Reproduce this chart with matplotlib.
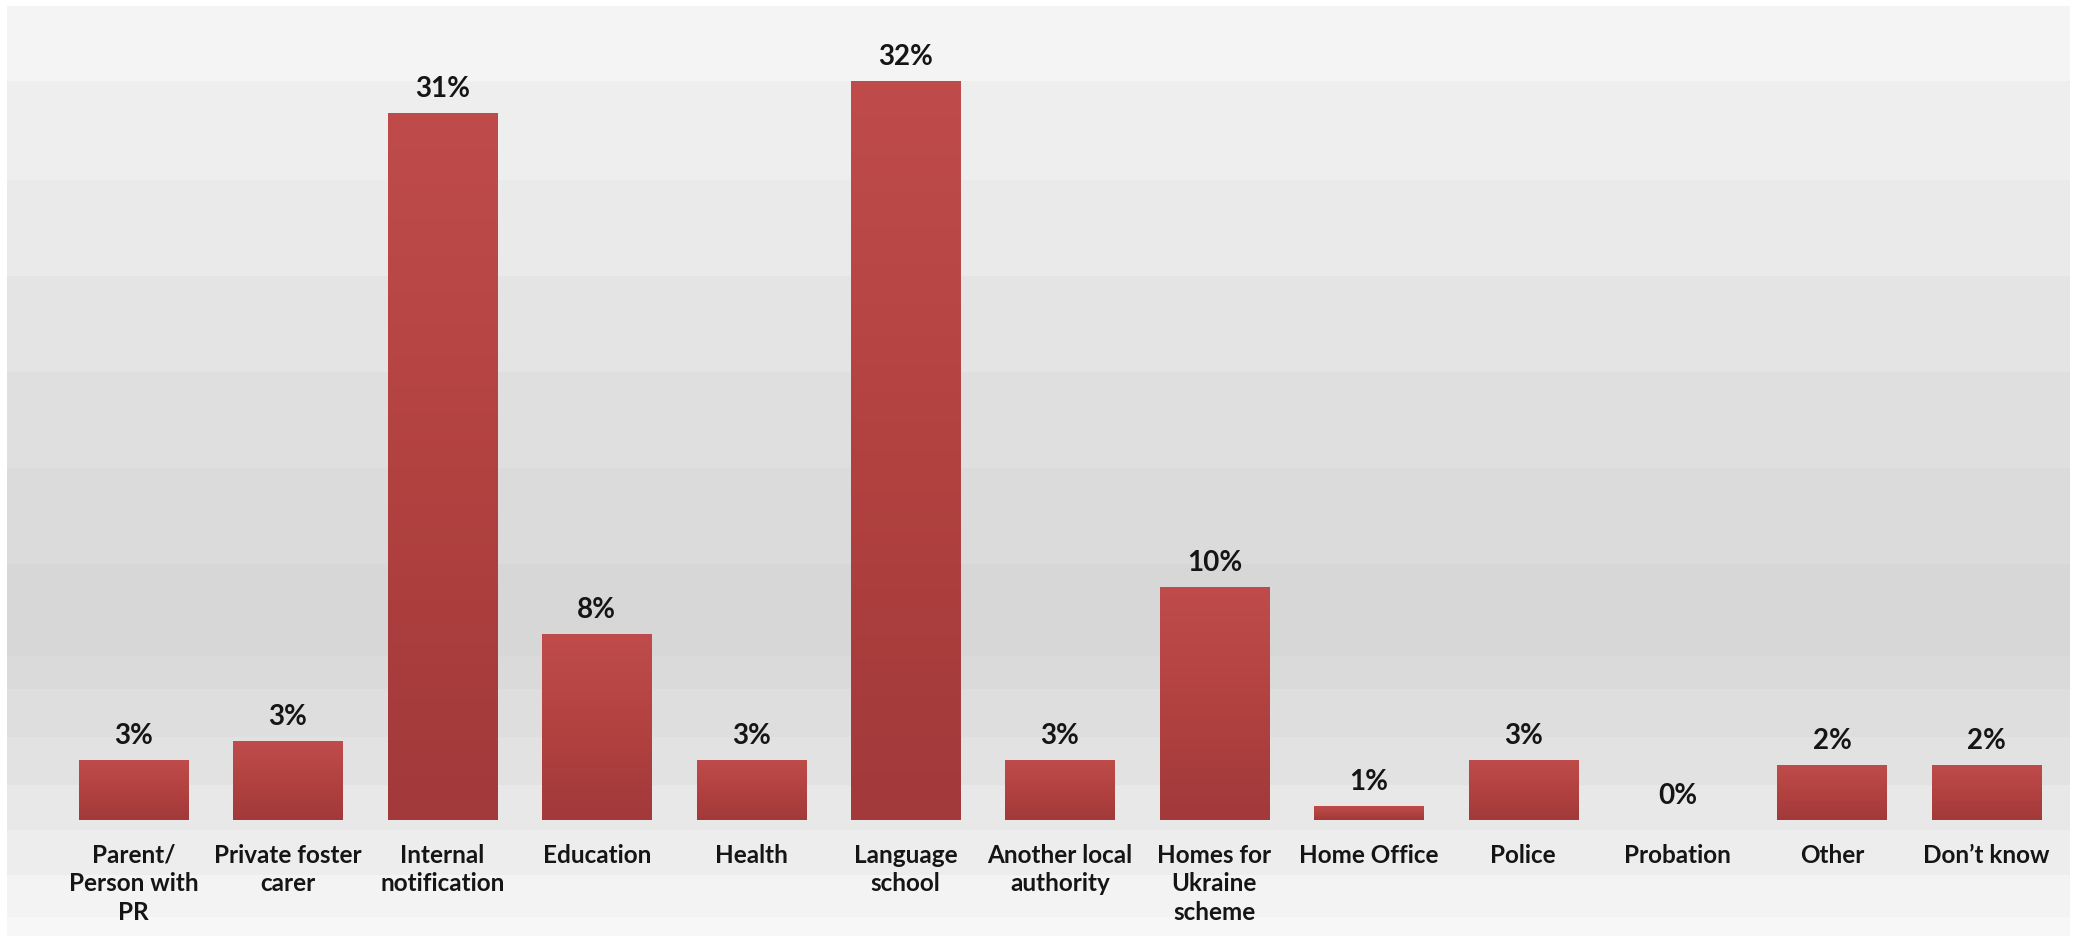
import numpy as np
import matplotlib
matplotlib.use("Agg")
import matplotlib.pyplot as plt
from matplotlib.colors import LinearSegmentedColormap

# Referral sources (share of referrals, %)
categories = [
    "Parent/\nPerson with\nPR",
    "Private foster\ncarer",
    "Internal\nnotification",
    "Education",
    "Health",
    "Language\nschool",
    "Another local\nauthority",
    "Homes for\nUkraine\nscheme",
    "Home Office",
    "Police",
    "Probation",
    "Other",
    "Don\u2019t know",
]
shares = [2.6, 3.4, 30.6, 8.05, 2.6, 32.0, 2.6, 10.1, 0.6, 2.6, 0.0, 2.4, 2.4]

W, H = 2074, 940
fig = plt.figure(figsize=(W / 100, H / 100), dpi=100)
fig.patch.set_facecolor("white")

# Banded grey backdrop panel
panel_top, panel_bottom = 6, 936
panel_left, panel_right = 7, 2070
band_edges = [6, 81, 180, 276, 372, 468, 564, 656, 689, 737, 785, 830, 875, 917, 936]
band_levels = [0.957, 0.937, 0.918, 0.898, 0.878, 0.859, 0.845, 0.857, 0.872, 0.890,
               0.910, 0.932, 0.953, 0.972]
rows = np.arange(panel_top, panel_bottom)
col = np.empty(len(rows))
for i in range(len(band_levels)):
    m = (rows >= band_edges[i]) & (rows < band_edges[i + 1])
    col[m] = band_levels[i]
bg_img = np.repeat(col[:, None], 4, axis=1)
bg_ax = fig.add_axes([panel_left / W, 1 - panel_bottom / H,
                      (panel_right - panel_left) / W, (panel_bottom - panel_top) / H])
bg_ax.imshow(np.dstack([bg_img] * 3), aspect="auto", interpolation="bilinear",
             extent=(0, 1, 0, 1))
bg_ax.set_axis_off()

# Main chart axes
px_per_unit = 23.1
slot = 154.4
baseline = 820
ymax = 35
ax = fig.add_axes([(133.6 - slot / 2) / W, 1 - baseline / H,
                   13 * slot / W, ymax * px_per_unit / H])
ax.patch.set_alpha(0)
x = np.arange(len(categories))
bars = ax.bar(x, shares, width=0.706, color="#b3413f", zorder=2)

# Vertical red gradient inside each bar (lighter at top)
bar_cmap = LinearSegmentedColormap.from_list("bar", ["#a2393a", "#b24240", "#bf4c4a"])
grad = np.linspace(0, 1, 256)[:, None]
for b in bars:
    h = b.get_height()
    if h <= 0:
        continue
    x0 = b.get_x()
    im = ax.imshow(grad, cmap=bar_cmap, aspect="auto", origin="lower",
                   extent=(x0, x0 + b.get_width(), 0, h), zorder=3)
    im.set_clip_path(b)

ax.set_xlim(-0.5, len(categories) - 0.5)
ax.set_ylim(0, ymax)

text_color = "#151515"
font = "Lato"
for xi, v in zip(x, shares):
    ax.annotate(f"{v:.0f}%", (xi, v), xytext=(0, 11.5), textcoords="offset points",
                ha="center", va="baseline", fontsize=20, fontweight="bold",
                family=font, color=text_color, zorder=4)

ax.set_xticks(x)
ax.set_xticklabels(categories, fontsize=17.5, fontweight="bold", family=font,
                   color=text_color, linespacing=1.3, multialignment="center")
ax.tick_params(axis="x", length=0, pad=17)
ax.set_yticks([])
for s in ax.spines.values():
    s.set_visible(False)

fig.savefig("out.png", dpi=100, facecolor="white")
